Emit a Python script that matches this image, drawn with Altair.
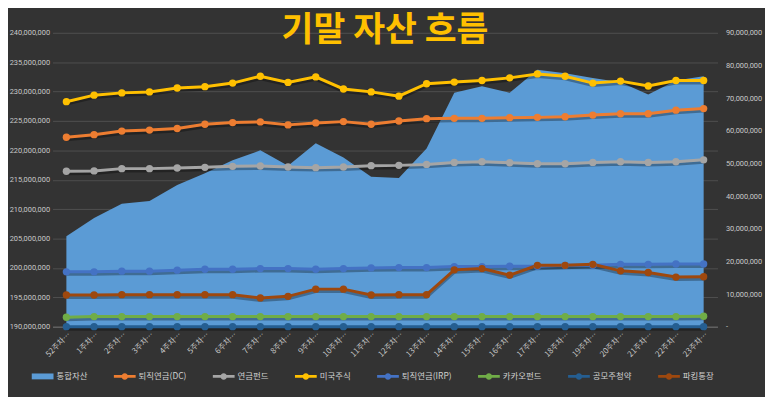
import altair as alt
import pandas as pd

weeks = ["52주차…", "1주차…", "2주차…", "3주차…", "4주차…", "5주차…", "6주차…", "7주차…",
         "8주차…", "9주차…", "10주차…", "11주차…", "12주차…", "13주차…", "14주차…", "15주차…",
         "16주차…", "17주차…", "18주차…", "19주차…", "20주차…", "21주차…", "22주차…", "23주차…"]

# 통합자산 (left axis), in millions
total = [205.4, 208.5, 210.9, 211.4, 214.1, 216.1, 218.3, 220.0, 217.4, 221.2, 218.8, 215.5,
         215.3, 220.3, 229.8, 230.9, 229.8, 233.7, 233.1, 232.3, 231.6, 229.5, 231.9, 232.6]

# right-axis series, in millions
dc = [58.0, 58.8, 59.9, 60.2, 60.7, 62.0, 62.5, 62.7, 61.8, 62.4, 62.8, 62.0,
      63.0, 63.7, 63.8, 63.8, 64.0, 64.1, 64.3, 64.8, 65.2, 65.2, 66.3, 66.8]
fund = [47.6, 47.7, 48.4, 48.4, 48.6, 48.8, 49.1, 49.2, 48.9, 48.7, 48.9, 49.3,
        49.4, 49.7, 50.3, 50.5, 50.2, 49.9, 49.9, 50.3, 50.5, 50.3, 50.5, 51.1]
us = [68.9, 70.9, 71.6, 71.9, 73.1, 73.5, 74.6, 76.7, 74.8, 76.5, 72.8, 71.9,
      70.6, 74.4, 74.9, 75.4, 76.2, 77.4, 76.7, 74.6, 75.2, 73.7, 75.4, 75.4]
irp = [16.8, 16.8, 17.0, 17.0, 17.3, 17.6, 17.6, 17.8, 17.8, 17.6, 17.8, 18.0,
       18.1, 18.1, 18.4, 18.4, 18.5, 18.5, 18.8, 18.8, 19.1, 19.1, 19.2, 19.2]
kakao = [2.9, 3.1, 3.1, 3.1, 3.1, 3.1, 3.1, 3.1, 3.1, 3.1, 3.1, 3.1,
         3.1, 3.1, 3.1, 3.1, 3.1, 3.1, 3.1, 3.1, 3.1, 3.1, 3.1, 3.2]
ipo = [0.0] * 24
parking = [9.7, 9.7, 9.8, 9.8, 9.8, 9.8, 9.8, 8.8, 9.3, 11.5, 11.5, 9.7,
           9.8, 9.8, 17.4, 17.8, 15.8, 18.8, 18.8, 19.1, 17.1, 16.6, 15.2, 15.3]

series_names = ["통합자산", "퇴직연금(DC)", "연금펀드", "미국주식", "퇴직연금(IRP)",
                "카카오펀드", "공모주청약", "파킹통장"]
series_colors = ["#5B9BD5", "#ED7D31", "#A5A5A5", "#FFC000", "#4472C4",
                 "#70AD47", "#255E91", "#9E480E"]

left_ticks = [190e6 + 5e6 * i for i in range(11)]
right_ticks = [10e6 * i for i in range(10)]

area_df = pd.DataFrame({"week": weeks, "value": [v * 1e6 for v in total], "series": "통합자산"})
line_series = [dc, fund, us, irp, kakao, ipo, parking]
rows = []
for name, vals in zip(series_names[1:], line_series):
    for w, v in zip(weeks, vals):
        rows.append({"week": w, "value": v * 1e6, "series": name})
line_df = pd.DataFrame(rows)

FONT = "Noto Sans CJK KR"
NUMFONT = "Roboto"
LBL = "#c8c8c8"

line_path = ("M-1,-0.13L1,-0.13L1,0.13L-1,0.13Z "
             "M0.3,0A0.3,0.3,0,1,1,-0.3,0A0.3,0.3,0,1,1,0.3,0Z")
area_path = "M-1,-0.27L1,-0.27L1,0.27L-1,0.27Z"

legend = alt.Legend(
    title=None, orient="none", legendX=-21, legendY=336, direction="horizontal",
    columns=8, columnPadding=26, labelColor="#d0d0d0", labelFont=FONT, labelFontSize=8.5,
    labelOffset=3, symbolSize=484,
    symbolType=alt.ExprRef(expr=f"datum.value === '통합자산' ? '{area_path}' : '{line_path}'"),
    symbolFillColor=alt.ExprRef(expr="scale('color', datum.value)"),
    symbolStrokeWidth=0, symbolOpacity=1,
)
color = alt.Color("series:N", scale=alt.Scale(domain=series_names, range=series_colors),
                  legend=legend)

x_axis = alt.Axis(title=None, labelAngle=-45, labelColor=LBL, labelFont=FONT, labelFontSize=8,
                  ticks=False, domain=True, domainColor="#6e6e6e", labelPadding=4, grid=False)
x_enc = alt.X("week:N", sort=weeks, scale=alt.Scale(type="point", padding=0.5), axis=x_axis)

left_axis = alt.Axis(title=None, values=left_ticks, orient="left", labelColor=LBL,
                     labelExpr="format(datum.value, ',')",
                     labelFont=NUMFONT, labelFontSize=7.5, grid=True, gridColor="#4f4f4f",
                     ticks=False, domain=False, labelPadding=3)
right_axis = alt.Axis(title=None, values=right_ticks, orient="right", labelColor=LBL,
                      labelFont=NUMFONT, labelFontSize=7.5, grid=False, ticks=False,
                      domain=False, labelPadding=8,
                      labelExpr="datum.value == 0 ? '-' : format(datum.value, ',')")

area = alt.Chart(area_df).mark_area(opacity=1).encode(
    x=x_enc,
    y=alt.Y("value:Q", scale=alt.Scale(domain=[190e6, 240e6], zero=False, nice=False),
            axis=left_axis),
    y2=alt.Y2(datum=190e6),
    color=color,
)

y_right = alt.Y("value:Q", scale=alt.Scale(domain=[0, 90e6], nice=False), axis=right_axis)

shadow = alt.Chart(line_df).mark_line(strokeWidth=3, color="black", opacity=0.3, yOffset=2.5).encode(
    x=x_enc, y=y_right, detail="series:N")
lines = alt.Chart(line_df).mark_line(strokeWidth=3).encode(x=x_enc, y=y_right, color=color)
points = alt.Chart(line_df).mark_point(filled=True, size=55, opacity=1).encode(
    x=x_enc, y=y_right, color=color)

right = alt.layer(shadow, lines, points)

chart = alt.layer(area, right).resolve_scale(y="independent").properties(
    width=672, height=297,
    autosize=alt.AutoSizeParams(type="none"),
    padding={"left": 45, "top": 23, "right": 48, "bottom": 69},
    title=alt.TitleParams("기말 자산 흐름", color="#FFC000", fontSize=35, font=FONT,
                          fontWeight="bold", anchor="middle", frame="group", offset=-19),
).configure(background="#333333").configure_view(stroke=None)

chart.save("out.html", embed_options={"renderer": "svg", "actions": False})
